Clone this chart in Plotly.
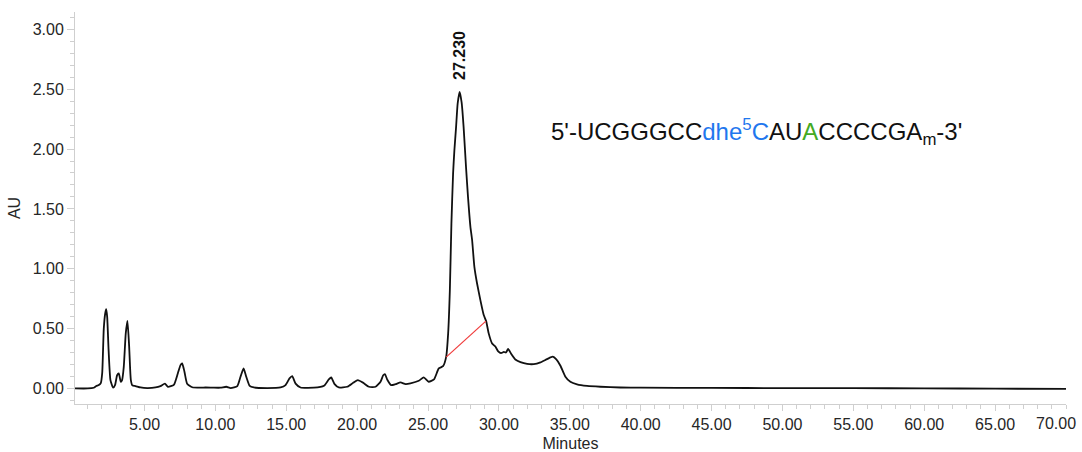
import plotly.graph_objects as go

# Chromatogram trace (minutes, AU)
time_min = [0.1, 1.0, 1.42, 1.6, 1.78, 1.92, 2.02, 2.13, 2.23, 2.30, 2.37, 2.47, 2.60, 2.79,
            2.93, 3.07, 3.19, 3.33, 3.42, 3.54, 3.68, 3.80, 3.92, 4.04, 4.15, 4.37, 4.72,
            5.2, 5.78, 6.13, 6.44, 6.65, 7.07, 7.35, 7.54, 7.66, 7.82, 8.01, 8.37, 8.95,
            9.31, 9.9, 10.37, 10.77, 11.08, 11.55, 11.78, 11.99, 12.18, 12.42, 12.72,
            13.66, 14.6, 14.95, 15.23, 15.42, 15.66, 16.01, 16.95, 17.66, 18.0, 18.17,
            18.41, 18.71, 19.3, 19.72, 20.05, 20.43, 20.83, 21.3, 21.65, 21.84, 21.96,
            22.12, 22.4, 22.71, 23.06, 23.42, 23.76, 24.35, 24.70, 25.05, 25.42, 25.76,
            26.06, 26.28, 26.42, 26.54, 26.65, 26.77, 26.86, 26.98, 27.09, 27.23, 27.37,
            27.51, 27.68, 27.82, 27.99, 28.11, 28.27, 28.46, 28.69, 28.93, 29.10, 29.28,
            29.52, 29.75, 29.95, 30.15, 30.35, 30.5, 30.65, 30.86, 31.16, 31.52, 31.99,
            32.46, 32.93, 33.40, 33.80, 34.05, 34.34, 34.69, 35.04, 35.51, 36.22, 37.16,
            38.57, 40, 45, 50, 55, 60, 65, 70]
absorbance = [0.0, 0.0, 0.006, 0.02, 0.028, 0.045, 0.13, 0.50, 0.626, 0.662, 0.598, 0.32, 0.07, 0.006,
              0.03, 0.11, 0.125, 0.055, 0.07, 0.18, 0.46, 0.565, 0.35, 0.07, 0.025, 0.02, 0.008,
              0.003, 0.008, 0.02, 0.04, 0.014, 0.03, 0.125, 0.195, 0.209, 0.14, 0.04, 0.01, 0.006,
              0.008, 0.006, 0.006, 0.014, 0.003, 0.02, 0.10, 0.167, 0.098, 0.022, 0.008,
              0.003, 0.008, 0.028, 0.084, 0.103, 0.04, 0.008, 0.006, 0.022, 0.075, 0.092,
              0.036, 0.008, 0.014, 0.047, 0.07, 0.047, 0.014, 0.014, 0.056, 0.11, 0.12,
              0.075, 0.028, 0.036, 0.05, 0.036, 0.042, 0.064, 0.092, 0.056, 0.075, 0.167,
              0.186, 0.264, 0.46, 0.82, 1.377, 1.80, 1.99, 2.185, 2.38, 2.478, 2.39,
              2.185, 1.85, 1.60, 1.35, 1.24, 1.016, 0.877, 0.74, 0.613, 0.563, 0.46,
              0.376, 0.35, 0.31, 0.295, 0.305, 0.30, 0.33, 0.29, 0.242, 0.22, 0.205,
              0.203, 0.218, 0.245, 0.265, 0.242, 0.19, 0.098, 0.055, 0.034, 0.021, 0.014,
              0.008, 0.006, 0.004, 0.003, 0.002, 0.001, -0.002, -0.004]

# Integration baseline of the main peak
baseline_x = [26.28, 29.08]
baseline_y = [0.262, 0.562]

# Peak label
peak_time = 27.230
peak_height = 2.478

x_tickvals = [5, 10, 15, 20, 25, 30, 35, 40, 45, 50, 55, 60, 65]
x_ticktext = ["5.00", "10.00", "15.00", "20.00", "25.00", "30.00", "35.00", "40.00",
              "45.00", "50.00", "55.00", "60.00", "65.00"]
last_x_tick = 70
last_x_label = "70.00"
y_tickvals = [0.0, 0.5, 1.0, 1.5, 2.0, 2.5, 3.0]
y_ticktext = ["0.00", "0.50", "1.00", "1.50", "2.00", "2.50", "3.00"]

FONT = "Liberation Sans, Arial, sans-serif"
AXIS_GRAY = "#cfcfcf"
TEXT = "#262626"

fig = go.Figure()
fig.add_trace(go.Scatter(x=time_min, y=absorbance, mode="lines",
                         line=dict(color="#111111", width=1.8, shape="spline", smoothing=0.5),
                         hoverinfo="skip", showlegend=False))
fig.add_trace(go.Scatter(x=baseline_x, y=baseline_y, mode="lines",
                         line=dict(color="#f03a3a", width=1.2),
                         hoverinfo="skip", showlegend=False))

fig.add_annotation(x=peak_time, y=peak_height, text="<b>%.3f</b>" % peak_time,
                   textangle=-90, showarrow=False, xanchor="center", yanchor="bottom",
                   yshift=10, font=dict(family=FONT, size=16, color="#111111"))

seq = ("5'-UCGGGCC<span style='color:#1f77ee'>dhe<sup>5</sup>C</span>AU"
       "<span style='color:#44aa22'>A</span>CCCCGA<sub>m</sub>-3'")
fig.add_annotation(x=33.5, y=2.13, text=seq, showarrow=False, xanchor="left",
                   yanchor="middle", yshift=1,
                   font=dict(family=FONT, size=24, color="#111111"))

fig.add_annotation(x=last_x_tick, y=0, yref="paper", text=last_x_label, showarrow=False,
                   xanchor="right", yanchor="top", xshift=12, yshift=-9,
                   font=dict(family=FONT, size=16, color=TEXT))

fig.update_xaxes(range=[0.1, 70], tickmode="array", tickvals=x_tickvals, ticktext=x_ticktext,
                 ticks="outside", ticklen=6, tickcolor=AXIS_GRAY, tickwidth=1, automargin=False,
                 showline=True, linecolor=AXIS_GRAY, linewidth=1, showgrid=False, zeroline=False,
                 minor=dict(dtick=1, tick0=0, ticks="outside", ticklen=4, tickcolor=AXIS_GRAY),
                 tickfont=dict(family=FONT, size=16, color=TEXT),
                 title=dict(text="Minutes", font=dict(family=FONT, size=16, color=TEXT), standoff=5))
fig.update_yaxes(range=[-0.13, 3.145], tickmode="array", tickvals=y_tickvals, ticktext=y_ticktext,
                 ticks="outside", ticklen=7, tickcolor=AXIS_GRAY, tickwidth=1, automargin=False,
                 showline=True, linecolor=AXIS_GRAY, linewidth=1, showgrid=False, zeroline=False,
                 minor=dict(dtick=0.1, tick0=0, ticks="outside", ticklen=4, tickcolor=AXIS_GRAY),
                 tickfont=dict(family=FONT, size=16, color=TEXT),
                 title=dict(text="AU", font=dict(family=FONT, size=16, color=TEXT), standoff=8))

fig.update_layout(width=1082, height=452, margin=dict(l=75, r=16, t=12, b=48),
                  paper_bgcolor="white", plot_bgcolor="white")

fig.write_html("out.html")
